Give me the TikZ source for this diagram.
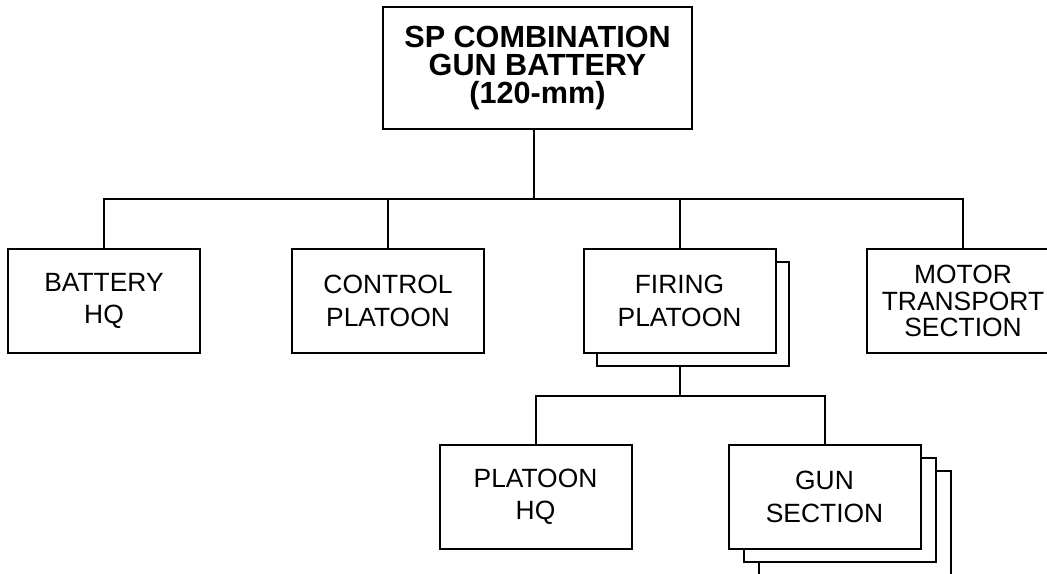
\documentclass[tikz,border=0pt]{standalone}
\usepackage{fontspec}
\setmainfont{Liberation Sans}
\begin{document}
\begin{tikzpicture}[x=0.5pt,y=-0.5pt,line width=1pt,
  unit/.style={draw,fill=white,align=center,inner sep=0pt,
    minimum width=96pt,minimum height=52pt,
    font=\fontsize{13.2}{16.2}\selectfont},
  topunit/.style={unit,minimum width=154.5pt,minimum height=61pt,
    font=\bfseries\fontsize{15.3}{13.8}\selectfont}]
  \useasboundingbox (0,0) rectangle (1047,573);
  \clip (0,0) rectangle (1047,573);
  % battery and its elements
  \node[topunit] (bty) at (537.5,68) {SP COMBINATION\\GUN BATTERY\\(120-mm)};
  \node[unit] (bhq) at (104,301) {BATTERY\\HQ};
  \node[unit] (cpl) at (388,301) {CONTROL\\PLATOON};
  \node[unit] (fpl2) at (692.5,314) {};
  \node[unit] (fpl) at (679.5,301) {FIRING\\PLATOON};
  \node[unit,font=\fontsize{13.2}{13.2}\selectfont] (mts) at (963,301) {MOTOR\\TRANSPORT\\SECTION};
  % firing platoon elements
  \node[unit] (phq) at (535.5,497) {PLATOON\\HQ};
  \node[unit] (gun3) at (854.5,523) {};
  \node[unit] (gun2) at (839.5,510) {};
  \node[unit] (gun) at (824.5,497) {GUN\\SECTION};
  % connectors
  \coordinate (bus) at (534,199);
  \coordinate (bus2) at (679,396);
  \draw (bty.south -| bus) -- (bus);
  \draw (bhq.north) -- (bhq.north |- bus) -- (mts.north |- bus) -- (mts.north);
  \draw (cpl.north) -- (cpl.north |- bus);
  \draw (fpl.north) -- (fpl.north |- bus);
  \draw (fpl.south |- fpl2.south) -- (fpl.south |- bus2);
  \draw (phq.north) -- (phq.north |- bus2) -- (gun.north |- bus2) -- (gun.north);
\end{tikzpicture}
\end{document}
